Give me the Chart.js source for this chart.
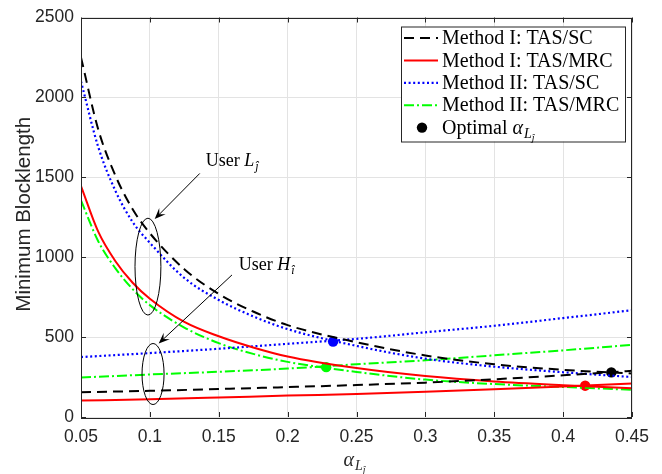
<!DOCTYPE html>
<html><head><meta charset="utf-8">
<script src="https://cdn.jsdelivr.net/npm/chart.js@4/dist/chart.umd.min.js"></script>
<style>html,body{margin:0;padding:0;background:#fff;}canvas{display:block;}</style>
</head><body>
<canvas id="c" width="662" height="474"></canvas>
<script>
// ---- data ----
const alphaL = [0.05,0.0625,0.075,0.0875,0.1,0.125,0.15,0.175,0.2,0.25,0.3,0.35,0.4,0.45];
const m1scL  = [2250,1800,1510,1300,1150,925,770,660,575,468,385,330,295,272];
const m1mrcL = [1445,1160,975,840,740,595,505,435,378,306,256,222,199,180];
const m2scL  = [2100,1690,1415,1220,1090,870,732,630,550,445,365,315,280,250];
const m2mrcL = [1355,1100,930,800,700,560,462,395,345,282,234,206,188,170];
const alphaH = [0.05,0.1,0.15,0.2,0.25,0.3,0.35,0.4,0.45];
const m1scH  = [155,164,175,187,200,215,236,261,289];
const m1mrcH = [103,111,122,134,144,158,174,191,210];
const m2scH  = [375,400,427,458,489,530,571,619,668];
const m2mrcH = [247,266,283,303,330,355,386,417,452];
const optAlpha = [0.435,0.416,0.233,0.228];
const optValue = [279,196,472,312];
const seriesNames = ['Method I: TAS/SC','Method I: TAS/MRC','Method II: TAS/SC','Method II: TAS/MRC'];
const xTickLabels = ['0.05','0.1','0.15','0.2','0.25','0.3','0.35','0.4','0.45'];
const yTickLabels = ['0','500','1000','1500','2000','2500'];

// ---- styles ----
const SANS = '"Liberation Sans", Arial, sans-serif';
const SERIF = '"Liberation Serif", "Times New Roman", serif';
const styles = [
  {color:'#000000', dash:[10,6], width:2},
  {color:'#ff0000', dash:[], width:2},
  {color:'#0000ff', dash:[2,2.6], width:2.2},
  {color:'#00ff00', dash:[10,3,2,3], width:2}
];
const pts = (xs, ys) => xs.map((x,i)=>({x, y:ys[i]}));
const curveSets = [[m1scL,m1scH],[m1mrcL,m1mrcH],[m2scL,m2scH],[m2mrcL,m2mrcH]];
const datasets = [];
curveSets.forEach((pair, k) => {
  const st = styles[k];
  [[alphaL, pair[0]], [alphaH, pair[1]]].forEach(([xs, ys]) => {
    datasets.push({type:'line', label:seriesNames[k], data:pts(xs, ys), borderColor:st.color,
      borderDash:st.dash, borderWidth:st.width, pointRadius:0, fill:false,
      cubicInterpolationMode:'monotone', borderCapStyle:'butt'});
  });
});
datasets.push({type:'scatter', label:'Optimal', data:pts(optAlpha, optValue), pointRadius:5.2,
  pointBackgroundColor:['#000000','#ff0000','#0000ff','#00ff00'], pointBorderWidth:0});

// annotation geometry in data units
const ann = {
  ell: [{x:0.0986, y:941, rx:0.0094, ry:303}, {x:0.1023, y:269, rx:0.008, ry:191}],
  arrows: [{x1:0.1362, y1:1524, x2:0.1035, y2:1239}, {x1:0.1596, y1:889, x2:0.1064, y2:460}],
  texts: [{x:0.1405, y:1572, main:'L', sub:'\u0135'}, {x:0.1645, y:922, main:'H', sub:'\u00ee'}]
};

function drawRich(ctx, parts, x, y, align){
  let w = 0;
  parts.forEach(p => { ctx.font = p.font; w += ctx.measureText(p.t).width + (p.gap||0); });
  let cx = align === 'center' ? x - w/2 : x;
  ctx.textAlign = 'left'; ctx.textBaseline = 'alphabetic';
  parts.forEach(p => { ctx.font = p.font; ctx.fillText(p.t, cx + (p.gap||0), y + (p.dy||0)); cx += ctx.measureText(p.t).width + (p.gap||0); });
}

const overlay = {
  id:'overlay',
  afterDraw(chart){
    const ctx = chart.ctx, xs = chart.scales.x, ys = chart.scales.y, a = chart.chartArea;
    const X = v => xs.getPixelForValue(v), Y = v => ys.getPixelForValue(v);
    ctx.save();
    // axes box and inward ticks
    ctx.strokeStyle = '#262626'; ctx.lineWidth = 1;
    ctx.strokeRect(Math.round(a.left)+0.5, Math.round(a.top)+0.5, Math.round(a.right-a.left)-1, Math.round(a.bottom-a.top));
    ctx.beginPath();
    xs.ticks.forEach(t => { const p = Math.round(X(t.value))+0.5; ctx.moveTo(p, a.bottom); ctx.lineTo(p, a.bottom-5); ctx.moveTo(p, a.top); ctx.lineTo(p, a.top+5); });
    ys.ticks.forEach(t => { const p = Math.round(Y(t.value))+0.5; ctx.moveTo(a.left, p); ctx.lineTo(a.left+5, p); ctx.moveTo(a.right, p); ctx.lineTo(a.right-5, p); });
    ctx.stroke();

    // y title
    ctx.fillStyle = '#262626';
    ctx.save(); ctx.translate(24, (a.top+a.bottom)/2 - 3); ctx.rotate(-Math.PI/2);
    ctx.font = '20.5px ' + SANS; ctx.textAlign = 'center'; ctx.textBaseline = 'middle';
    ctx.fillText('Minimum Blocklength', 0, 0); ctx.restore();

    // x title  alpha_{L_j}
    ctx.fillStyle = '#262626';
    drawRich(ctx, [
      {t:'\u03b1', font:'italic 20px '+SERIF},
      {t:'L', font:'italic 14px '+SERIF, dy:4, gap:1},
      {t:'\u0135', font:'italic 10px '+SERIF, dy:7}
    ], (a.left+a.right)/2 - 2, 466, 'center');

    // annotations
    ctx.strokeStyle = '#000'; ctx.fillStyle = '#000'; ctx.lineWidth = 1;
    ann.ell.forEach(e => {
      const cx = X(e.x), cy = Y(e.y), rx = X(e.x+e.rx)-cx, ry = cy - Y(e.y+e.ry);
      ctx.beginPath(); ctx.ellipse(cx, cy, rx, ry, 0, 0, Math.PI*2); ctx.stroke();
    });
    ann.arrows.forEach(r => {
      const x1 = X(r.x1), y1 = Y(r.y1), x2 = X(r.x2), y2 = Y(r.y2);
      const ang = Math.atan2(y2-y1, x2-x1), L = 11, W = 4.5;
      ctx.beginPath(); ctx.moveTo(x1, y1); ctx.lineTo(x2 - Math.cos(ang)*6, y2 - Math.sin(ang)*6); ctx.stroke();
      const bx = x2 - Math.cos(ang)*L, by = y2 - Math.sin(ang)*L;
      const nx = x2 - Math.cos(ang)*L*0.6, ny = y2 - Math.sin(ang)*L*0.6;
      ctx.beginPath(); ctx.moveTo(x2, y2);
      ctx.lineTo(bx - Math.sin(ang)*W, by + Math.cos(ang)*W);
      ctx.lineTo(nx, ny);
      ctx.lineTo(bx + Math.sin(ang)*W, by - Math.cos(ang)*W);
      ctx.closePath(); ctx.fill();
    });
    ann.texts.forEach(t => {
      drawRich(ctx, [
        {t:'User ', font:'18px '+SERIF},
        {t:t.main, font:'italic 18px '+SERIF},
        {t:t.sub, font:'italic 12px '+SERIF, dy:4, gap:1}
      ], X(t.x), Y(t.y), 'left');
    });

    // legend
    const lw = 224, lh = 115, lx = a.right - 7 - lw, ly = a.top + 9;
    ctx.fillStyle = '#fff'; ctx.fillRect(lx, ly, lw, lh);
    ctx.strokeStyle = '#262626'; ctx.lineWidth = 1; ctx.strokeRect(lx+0.5, ly+0.5, lw, lh);
    const rowY = i => ly + 11.5 + i*22.4;
    seriesNames.forEach((name, i) => {
      const st = styles[i], yy = rowY(i);
      ctx.save(); ctx.strokeStyle = st.color; ctx.lineWidth = st.width; ctx.setLineDash(st.dash);
      ctx.beginPath(); ctx.moveTo(lx+3, yy); ctx.lineTo(lx+37, yy); ctx.stroke(); ctx.restore();
      ctx.fillStyle = '#000'; ctx.font = '20px ' + SERIF; ctx.textAlign = 'left'; ctx.textBaseline = 'middle';
      ctx.fillText(name, lx+41, yy+1);
    });
    const yo = rowY(4);
    ctx.fillStyle = '#000'; ctx.beginPath(); ctx.arc(lx+21, yo, 5.2, 0, Math.PI*2); ctx.fill();
    drawRich(ctx, [
      {t:'Optimal ', font:'20px '+SERIF},
      {t:'\u03b1', font:'italic 20px '+SERIF},
      {t:'L', font:'italic 14px '+SERIF, dy:4, gap:1},
      {t:'\u0135', font:'italic 10px '+SERIF, dy:7}
    ], lx+41, yo+6, 'left');
    ctx.restore();
  }
};

new Chart(document.getElementById('c'), {
  data: { datasets },
  options: {
    responsive:false, animation:false, devicePixelRatio:1,
    layout:{ padding:{ left:0, top:13, right:30, bottom:0 } },
    plugins:{ legend:{display:false}, tooltip:{enabled:false} },
    scales:{
      x:{ type:'linear', min:0.05, max:0.45,
        afterBuildTicks: s => { s.ticks = xTickLabels.map(v => ({value:Number(v)})); },
        ticks:{ callback:(v,i)=>xTickLabels[i], font:{family:SANS, size:17.5}, color:'#262626', padding:10, maxRotation:0, autoSkip:false },
        grid:{ color:'#e3e3e3', drawTicks:false }, border:{ display:false },
        afterFit: s => { s.height = 57; } },
      y:{ type:'linear', min:0, max:2500,
        afterBuildTicks: s => { s.ticks = yTickLabels.map(v => ({value:Number(v)})); },
        ticks:{ callback:(v,i)=>yTickLabels[i], font:{family:SANS, size:17.5}, color:'#262626', padding:7 },
        grid:{ color:'#e3e3e3', drawTicks:false }, border:{ display:false },
        afterFit: s => { s.width = 81; } }
    }
  },
  plugins:[overlay]
});
</script>
</body></html>
